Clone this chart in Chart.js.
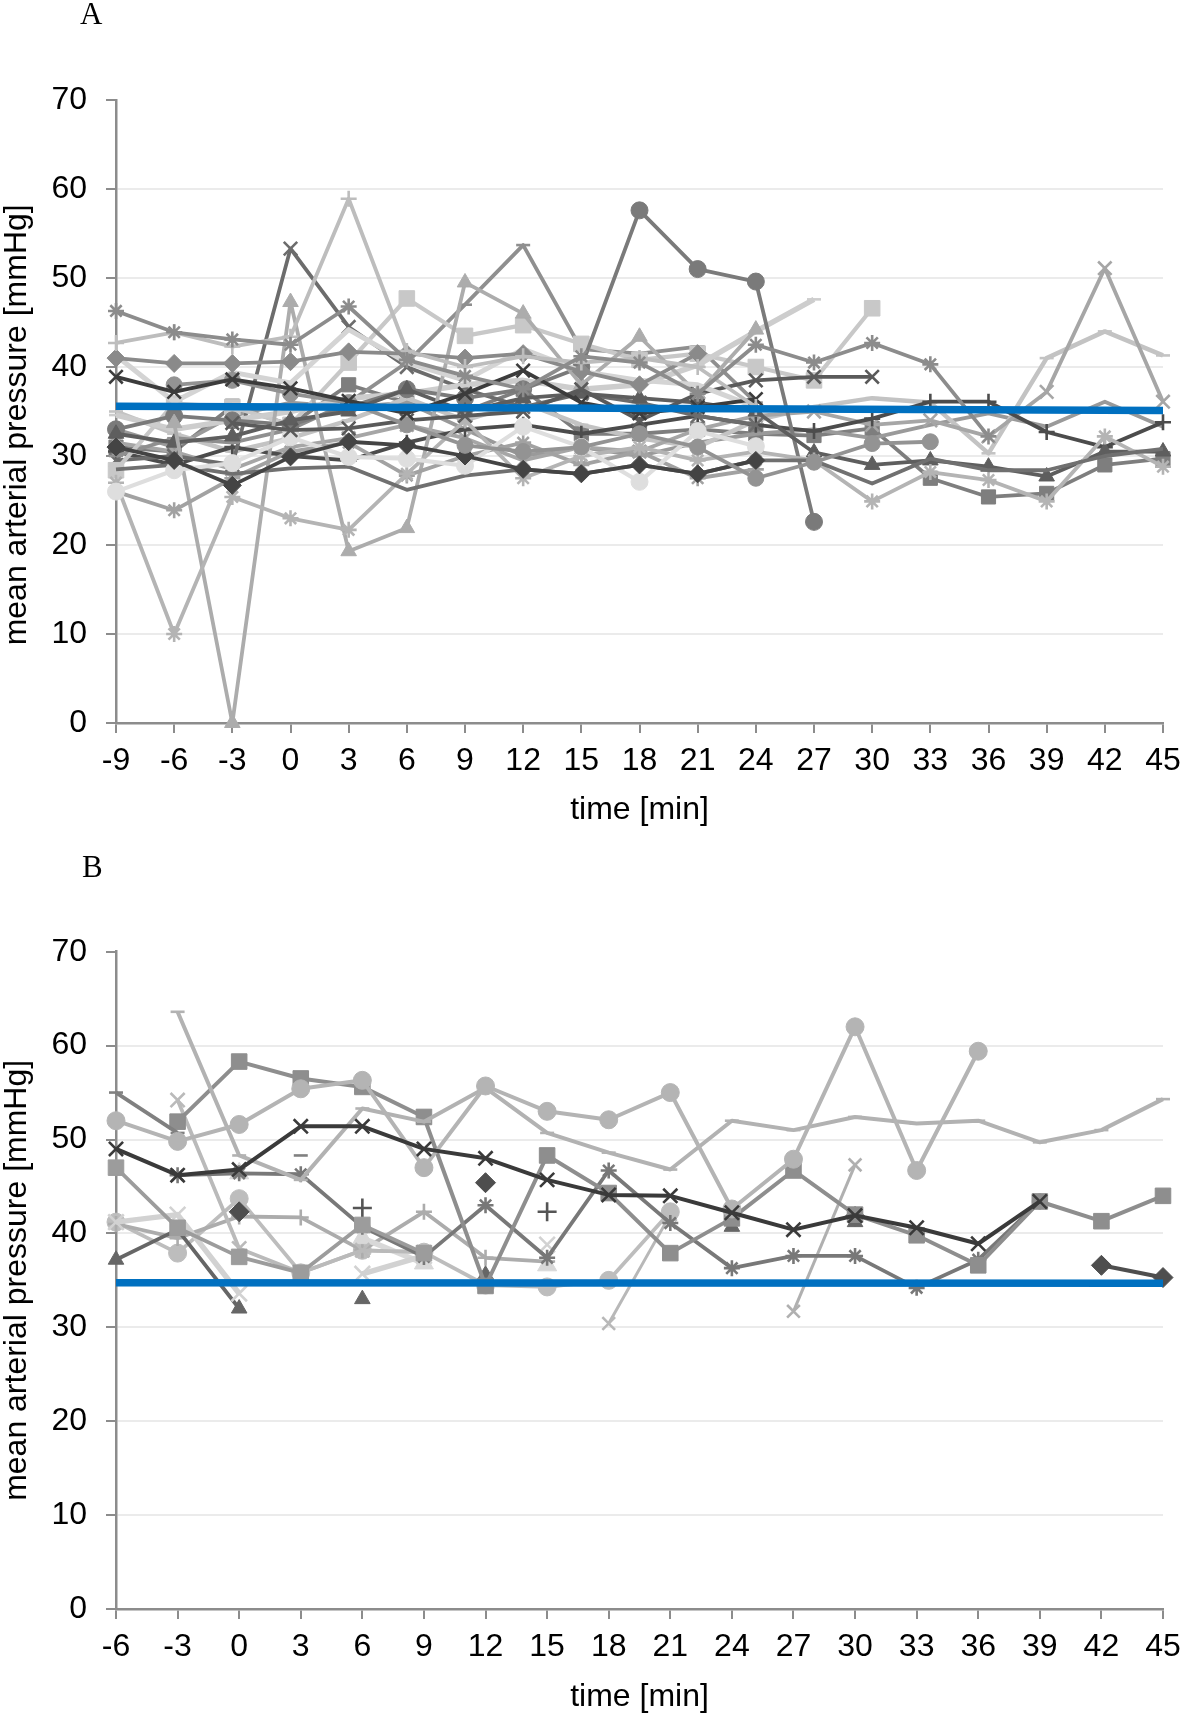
<!DOCTYPE html>
<html><head><meta charset="utf-8">
<script src="https://cdn.jsdelivr.net/npm/chart.js@4.4.1/dist/chart.umd.min.js"></script>
<style>
html,body{margin:0;padding:0;background:#fff;}
#wrap{position:relative;width:1181px;height:1713px;overflow:hidden;background:#fff;}
canvas{position:absolute;left:0;}
.lbl{position:absolute;font-family:"Liberation Serif","Times New Roman",serif;font-size:31px;line-height:31px;color:#000;}
</style></head><body>
<div id="wrap">
<canvas id="cA" width="1181" height="840" style="top:0;width:1181px;height:840px"></canvas>
<canvas id="cB" width="1181" height="873" style="top:840px;width:1181px;height:873px"></canvas>
<div class="lbl" style="left:80px;top:-2px">A</div>
<div class="lbl" style="left:82px;top:851px">B</div>
</div>
<script>
// ---------- Panel A data ----------
const timesA = [-9,-6,-3,0,3,6,9,12,15,18,21,24,27,30,33,36,39,42,45];
const pA01 = [46.3,43.9,43.1,42.5,46.8,40.8,39.0,37.5,41.2,40.5,37.0,42.5,40.5,42.7,40.3,32.2,null,null,null];
const pA02 = [42.7,43.9,42.3,43.4,58.9,41.8,40.0,41.2,40.5,41.0,40.0,35.5,null,null,null,null,null,null,null];
const pA03 = [38.9,37.2,38.6,37.6,36.2,34.8,37.0,39.6,36.0,34.8,35.5,36.4,null,null,null,null,null,null,null];
const pA04 = [41.0,40.4,40.4,40.6,41.7,41.5,41.0,41.5,39.5,38.0,41.5,null,null,null,null,null,null,null,null];
const pA05 = [null,38.0,38.5,37.0,36.0,33.5,31.2,30.5,31.0,32.5,31.0,27.5,29.3,31.4,31.6,null,null,null,null];
const pA06 = [41.3,36.1,39.4,38.2,44.2,40.5,38.5,42.0,39.5,38.5,38.0,35.5,null,null,null,null,null,null,null];
const pA07 = [null,null,33.7,32.9,33.1,34.0,34.5,35.0,37.5,34.0,37.0,38.5,38.9,38.9,null,null,null,null,null];
const pA08 = [31.0,29.5,26.7,29.9,31.6,31.2,30.0,28.5,28.0,29.0,28.0,29.5,null,null,null,null,null,null,null];
const pA09 = [26.0,28.4,29.2,32.1,29.9,29.7,28.9,33.3,31.0,27.1,32.8,31.1,null,null,null,null,null,null,null];
const pA10 = [28.5,29.0,28.0,28.6,28.8,26.2,27.8,28.5,28.0,29.0,28.0,29.5,29.5,26.9,29.7,28.4,28.4,30.0,30.8];
const pA11 = [27.0,10.0,25.4,23.0,21.7,28.0,34.0,27.5,30.0,31.0,29.5,30.5,29.5,24.9,28.2,27.3,24.9,32.2,28.8];
const pA12 = [26.0,23.9,27.5,30.5,31.5,27.8,30.0,31.5,29.0,30.5,27.5,28.5,null,null,null,null,null,null,null];
const pA13 = [null,33.7,0,47.3,19.3,21.9,49.5,46.0,38.0,43.4,37.0,44.2,null,null,null,null,null,null,null];
const pA14 = [32.5,31.5,32.2,34.0,35.0,37.5,35.0,36.5,37.0,36.5,36.0,35.0,30.4,29.0,29.5,28.8,27.7,30.5,30.5];
const pA15 = [33.0,34.5,34.0,33.5,35.5,37.5,36.5,37.5,40.0,57.6,51.0,49.6,22.6,null,null,null,null,null,null];
const pA16 = [34.6,33.0,34.0,35.0,36.5,37.0,38.0,38.5,37.5,38.0,40.2,44.0,47.6,null,null,null,null,null,null];
const pA17 = [28.4,35.9,35.5,33.5,40.5,47.7,43.5,44.7,42.6,40.8,41.5,40.0,38.5,46.6,null,null,null,null,null];
const pA18 = [30.0,32.0,31.5,33.0,36.0,40.5,47.0,53.7,42.0,41.5,42.3,36.0,null,null,null,null,null,null,null];
const pA19 = [29.5,30.0,29.0,53.3,44.5,40.0,37.5,35.5,37.0,36.0,34.5,33.5,null,null,null,null,null,null,null];
const pA20 = [30.5,29.0,31.0,30.0,29.5,31.5,33.0,33.5,32.5,33.5,34.5,33.5,32.8,34.2,36.1,36.1,32.7,31.0,33.8];
const pA21 = [31.5,30.5,28.5,31.0,32.0,33.5,32.0,29.5,31.0,30.5,33.0,34.5,35.0,33.5,34.0,32.2,37.2,51.1,36.1];
const pA22 = [35.0,32.5,30.5,32.0,34.0,36.5,34.0,36.0,33.5,32.0,31.0,34.0,35.5,36.5,36.0,30.3,41.0,44.0,41.3];
const pA23 = [33.0,31.0,34.5,36.0,35.5,36.0,33.0,30.0,31.0,30.0,31.5,32.5,33.0,32.0,33.5,34.8,33.3,36.1,33.3];
const pA24 = [31.0,30.5,35.6,33.5,38.0,36.0,35.0,37.5,32.5,32.5,33.0,32.5,32.3,33.1,27.5,25.4,25.8,29.0,29.7];
const trendTimesA = [-9, 45];
const trendA = [35.6, 35.1];

// ---------- Panel B data ----------
const timesB = [-6,-3,0,3,6,9,12,15,18,21,24,27,30,33,36,39,42,45];
const pB01 = [49.0,46.2,46.8,51.4,51.4,49.0,48.0,45.7,44.1,44.0,42.2,40.4,41.9,40.6,38.9,43.4,null,null];
const pB02 = [52.0,49.8,51.6,55.4,56.3,47.0,55.7,53.0,52.1,55.0,42.6,47.9,62.0,46.7,59.4,null,null,null];
const pB03 = [null,63.6,48.3,45.7,53.3,51.9,55.5,50.7,48.6,46.8,52.0,51.0,52.4,51.7,52.0,49.7,51.0,54.3];
const pB04 = [55.0,50.7,null,48.3,null,null,null,null,null,null,null,null,null,null,null,null,null,null];
const pB05 = [null,51.9,58.3,56.5,55.6,52.4,34.4,48.3,44.3,37.9,41.6,46.7,42.0,39.8,36.6,43.4,41.3,44.0];
const pB06 = [47.0,40.6,37.5,35.8,40.9,37.9,null,null,null,null,null,null,null,null,null,null,null,null];
const pB07 = [null,46.2,46.4,46.3,40.7,37.5,43.0,37.4,46.7,41.1,36.3,37.6,37.6,34.2,37.2,43.4,null,null];
const pB08 = [null,54.2,38.4,35.8,38.2,38.0,null,null,null,null,null,null,null,null,null,null,null,null];
const pB09 = [41.2,42.0,33.6,null,35.7,37.6,null,38.8,null,null,null,null,null,null,null,null,null,null];
const pB10 = [null,null,46.4,null,39.5,36.8,null,36.6,null,null,null,null,null,null,null,null,null,null];
const pB11 = [37.2,40.4,32.0,null,33.0,null,35.6,null,null,null,40.7,null,41.2,null,null,null,null,null];
const pB12 = [null,null,42.3,null,null,null,45.4,null,null,null,null,null,41.8,null,null,null,36.6,35.3];
const pB13 = [null,null,null,null,42.7,null,null,42.3,null,null,null,null,null,null,null,null,null,null];
const pB14 = [41.0,39.5,41.8,41.7,38.2,42.3,37.4,37.0,null,null,null,null,null,null,null,null,null,null];
const pB15 = [41.2,37.9,43.7,35.8,38.2,38.0,34.5,34.3,35.0,42.3,null,null,null,null,null,null,null,null];
const pB16 = [null,null,null,null,null,null,null,null,30.4,42.0,null,null,null,null,null,null,null,null];
const pB17 = [null,null,null,null,null,null,null,null,null,null,null,31.7,47.3,null,null,null,null,null];
const trendTimesB = [-6, 45];
const trendB = [34.75, 34.7];

const yTicks = [0,10,20,30,40,50,60,70];

// ---------- styles (kept separate from values) ----------
const seriesA = [pA01,pA02,pA03,pA04,pA05,pA06,pA07,pA08,pA09,pA10,pA11,pA12,pA13,pA14,pA15,pA16,pA17,pA18,pA19,pA20,pA21,pA22,pA23,pA24];
const stylesA = [
 ['star','#8c8c8c',8,3.8],['cross','#bdbdbd',8,3.8],['crossRot','#3c3c3c',9.5,3.8],['rectRot','#8a8a8a',9,3.8],
 ['circle','#939393',8,3.8],['circle','#d4d4d4',0,5],['crossRot','#5a5a5a',9.5,3.8],['rectRot','#444444',9,3.8],
 ['circle','#dedede',8.5,4.2],['circle','#707070',0,3.8],['star','#b4b4b4',8,3.8],['star','#a2a2a2',8,3.8],
 ['triangle','#acacac',9,3.8],['triangle','#5e5e5e',9,3.8],['circle','#7a7a7a',8.5,3.8],['line','#cdcdcd',7,5.5],
 ['rect','#c8c8c8',11,4.2],['line','#8f8f8f',7,3.8],['crossRot','#6c6c6c',9.5,3.8],['cross','#4c4c4c',8,3.8],
 ['crossRot','#a6a6a6',9.5,3.8],['line','#c3c3c3',7,4.5],['circle','#9a9a9a',0,3.8],['rect','#7e7e7e',10,3.8]
];
const seriesB = [pB01,pB02,pB03,pB04,pB05,pB06,pB07,pB08,pB09,pB10,pB11,pB12,pB13,pB14,pB15,pB16,pB17];
const stylesB = [
 ['crossRot','#3a3a3a',10,4],['circle','#b4b4b4',9,4],['line','#b2b2b2',7,4],['line','#808080',7,3.8],
 ['rect','#8e8e8e',11,4],['rect','#9c9c9c',11,3.8],['star','#787878',8,3.8],['crossRot','#bababa',10,3.8],
 ['crossRot','#d2d2d2',11,5.5],['triangle','#d8d8d8',11,5.5],['triangle','#666666',9,3.8],['rectRot','#4e4e4e',10,4],
 ['cross','#555555',9.5,2.5],['cross','#acacac',8,3.8],['circle','#bdbdbd',9,3.8],['crossRot','#b8b8b8',9,3],
 ['crossRot','#b0b0b0',9,3]
];

const FONT = '"Liberation Sans", Arial, sans-serif';

function buildDatasets(times, series, styles, tTimes, tVals) {
  const ds = series.map((vals, i) => {
    const [ps, col, r, w] = styles[i];
    const strokeOnly = (ps === 'cross' || ps === 'crossRot' || ps === 'star' || ps === 'line');
    return {
      data: vals.map((v, k) => ({x: times[k], y: v})),
      borderColor: col, backgroundColor: col,
      borderWidth: w, pointStyle: ps, pointRadius: r,
      pointBackgroundColor: col, pointBorderColor: col,
      pointBorderWidth: strokeOnly ? 2.6 : 1,
      borderJoinStyle: 'round', tension: 0, spanGaps: false,
      clip: false, order: 1
    };
  });
  ds.push({
    data: tVals.map((v, k) => ({x: tTimes[k], y: v})),
    borderColor: '#0070c0', backgroundColor: '#0070c0', borderWidth: 7.5,
    pointRadius: 0, clip: false, order: 0
  });
  return ds;
}

function makeChart(id, times, series, styles, tTimes, tVals, o) {
  return new Chart(document.getElementById(id), {
    type: 'line',
    data: {datasets: buildDatasets(times, series, styles, tTimes, tVals)},
    options: {
      responsive: false, animation: false, devicePixelRatio: 1,
      layout: {padding: {top: o.top, right: 18, left: 0, bottom: 0}},
      plugins: {legend: {display: false}, tooltip: {enabled: false}},
      scales: {
        x: {
          type: 'linear', min: times[0], max: times[times.length - 1],
          afterFit: s => { s.height = o.xh; s.paddingLeft = 0; s.paddingRight = 0; },
          ticks: {stepSize: 3, autoSkip: false, maxRotation: 0, color: '#000', padding: 9,
                  font: {family: FONT, size: 32}},
          grid: {drawOnChartArea: false, color: '#8c8c8c', tickLength: 10, lineWidth: 2},
          border: {color: '#8c8c8c', width: 2.5},
          title: {display: true, text: 'time [min]', color: '#000',
                  font: {family: FONT, size: 32, lineHeight: 1}, padding: {top: 0, bottom: o.tb}}
        },
        y: {
          min: 0, max: 70,
          afterBuildTicks: s => { s.ticks = yTicks.map(v => ({value: v})); },
          afterFit: s => { s.width = 116; s.paddingTop = 0; s.paddingBottom = 0; },
          ticks: {color: '#000', padding: 19, font: {family: FONT, size: 32}},
          grid: {
            color: c => (c.tick && c.tick.value > 0 && c.tick.value < 70) ? '#ebebeb' : 'rgba(0,0,0,0)',
            lineWidth: 2, tickColor: '#8c8c8c', tickLength: 10, tickWidth: 2
          },
          border: {color: '#8c8c8c', width: 2.5},
          title: {display: true, text: o.ytitle, color: '#000',
                  font: {family: FONT, size: 32, lineHeight: 1}, padding: {top: 1, bottom: 0}}
        }
      }
    }
  });
}

makeChart('cA', timesA, seriesA, stylesA, trendTimesA, trendA,
  {top: 100, xh: 117, tb: 14, ytitle: 'mean arterial pressure [mmHg]   '});
makeChart('cB', timesB, seriesB, stylesB, trendTimesB, trendB,
  {top: 111.7, xh: 104, tb: 0, ytitle: 'mean arterial pressure [mmHg]'});
</script>
</body></html>
